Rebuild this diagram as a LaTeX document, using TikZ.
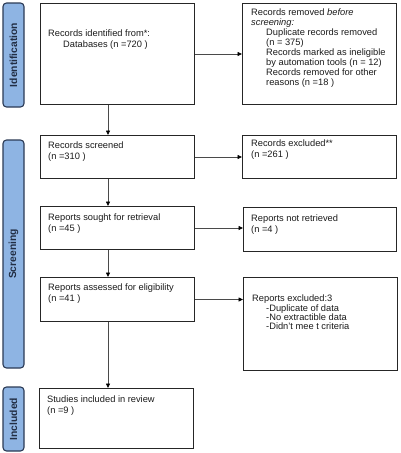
\documentclass[tikz,border=0pt]{standalone}
\usepackage{fontspec}
\setmainfont{Liberation Sans}
\usetikzlibrary{arrows.meta,calc}
\definecolor{barfill}{HTML}{8EB4E3}
\definecolor{barline}{HTML}{2B3A55}
\definecolor{txt}{HTML}{1A1A1A}
\definecolor{conn}{HTML}{4A4A4A}
\begin{document}
\begin{tikzpicture}[x=1pt,y=-1pt,
  box/.style={draw=black!85, line width=1pt, inner sep=0, anchor=north west},
  bar/.style={draw=barline, fill=barfill, line width=1.1pt, rounded corners=3.5pt,
    minimum height=21pt, inner sep=0, rotate=90, text=barline!80!black,
    font=\fontsize{10.3}{11}\selectfont\bfseries},
  lbl/.style={anchor=north west, inner sep=0, align=left, text=txt},
  wide/.style={font=\fontsize{9.3}{11}\selectfont},
  mid/.style={font=\fontsize{9.3}{10}\selectfont},
  tight/.style={font=\fontsize{9.3}{8.6}\selectfont},
  arr/.style={draw=conn, line width=0.8pt, -{Triangle[length=4.5pt,width=4pt,black]}}]
\useasboundingbox (0,0) rectangle (400,453);
% phase bars
\node[bar, minimum width=104pt] (idbar) at (13.5,55) {Identification};
\node[bar, minimum width=228pt] (scbar) at (13.5,254) {Screening};
\node[bar, minimum width=64pt] (inbar) at (13.5,419) {Included};
% left boxes
\node[box, minimum width=154pt, minimum height=101pt] (b1) at (40,3) {};
\node[box, minimum width=154pt, minimum height=43pt] (b2) at (40,135) {};
\node[box, minimum width=154pt, minimum height=43pt] (b3) at (40,206) {};
\node[box, minimum width=154pt, minimum height=44pt] (b4) at (40,277) {};
\node[box, minimum width=154pt, minimum height=60pt] (b5) at (39,388) {};
% right boxes
\node[box, minimum width=154pt, minimum height=101pt] (r1) at (242,3) {};
\node[box, minimum width=154pt, minimum height=43pt] (r2) at (242,135) {};
\node[box, minimum width=153pt, minimum height=44pt] (r3) at (243,207) {};
\node[box, minimum width=154pt, minimum height=93pt] (r4) at (243,277) {};
% texts
\node[lbl, wide] (t1) at (48,29.5) {Records identified from*:\\\hspace*{15pt}Databases (n =720 )};
\node[lbl, wide] (t2) at (48,141.5) {Records screened\\(n =310 )};
\node[lbl, wide] (t3) at (48,213.5) {Reports sought for retrieval\\(n =45 )};
\node[lbl, wide] (t4) at (48,283.5) {Reports assessed for eligibility\\(n =41 )};
\node[lbl, wide] (t5) at (47,395.5) {Studies included in review\\(n =9 )};
\node[lbl, mid] (s1) at (251,8.7) {Records removed \textit{before}\\\textit{screening:}\\
  \hspace*{15pt}Duplicate records removed\\\hspace*{15pt}(n = 375)\\
  \hspace*{15pt}Records marked as ineligible\\\hspace*{15pt}by automation tools (n = 12)\\
  \hspace*{15pt}Records removed for other\\\hspace*{15pt}reasons (n =18 )};
\node[lbl, wide] (s2) at (251,139.5) {Records excluded**\\(n =261 )};
\node[lbl, wide] (s3) at (251,214.5) {Reports not retrieved\\(n =4 )};
\node[lbl, tight] (s4) at (252,294.5) {Reports excluded:3\\
  \hspace*{14pt}-Duplicate of data\\\hspace*{14pt}-No extractible data\\\hspace*{14pt}-Didn't mee t criteria};
% connectors
\coordinate (vx) at (108,0);
\draw[arr] (b1.south -| vx) -- (b2.north -| vx);
\draw[arr] (b2.south -| vx) -- (b3.north -| vx);
\draw[arr] (b3.south -| vx) -- (b4.north -| vx);
\draw[arr] (b4.south -| vx) -- (b5.north -| vx);
\draw[arr] (b1.east) -- (b1.east -| r1.west);
\draw[arr] (b2.east) -- (b2.east -| r2.west);
\draw[arr] (b3.east) -- (b3.east -| r3.west);
\draw[arr] (b4.east) -- (b4.east -| r4.west);
\end{tikzpicture}
\end{document}
